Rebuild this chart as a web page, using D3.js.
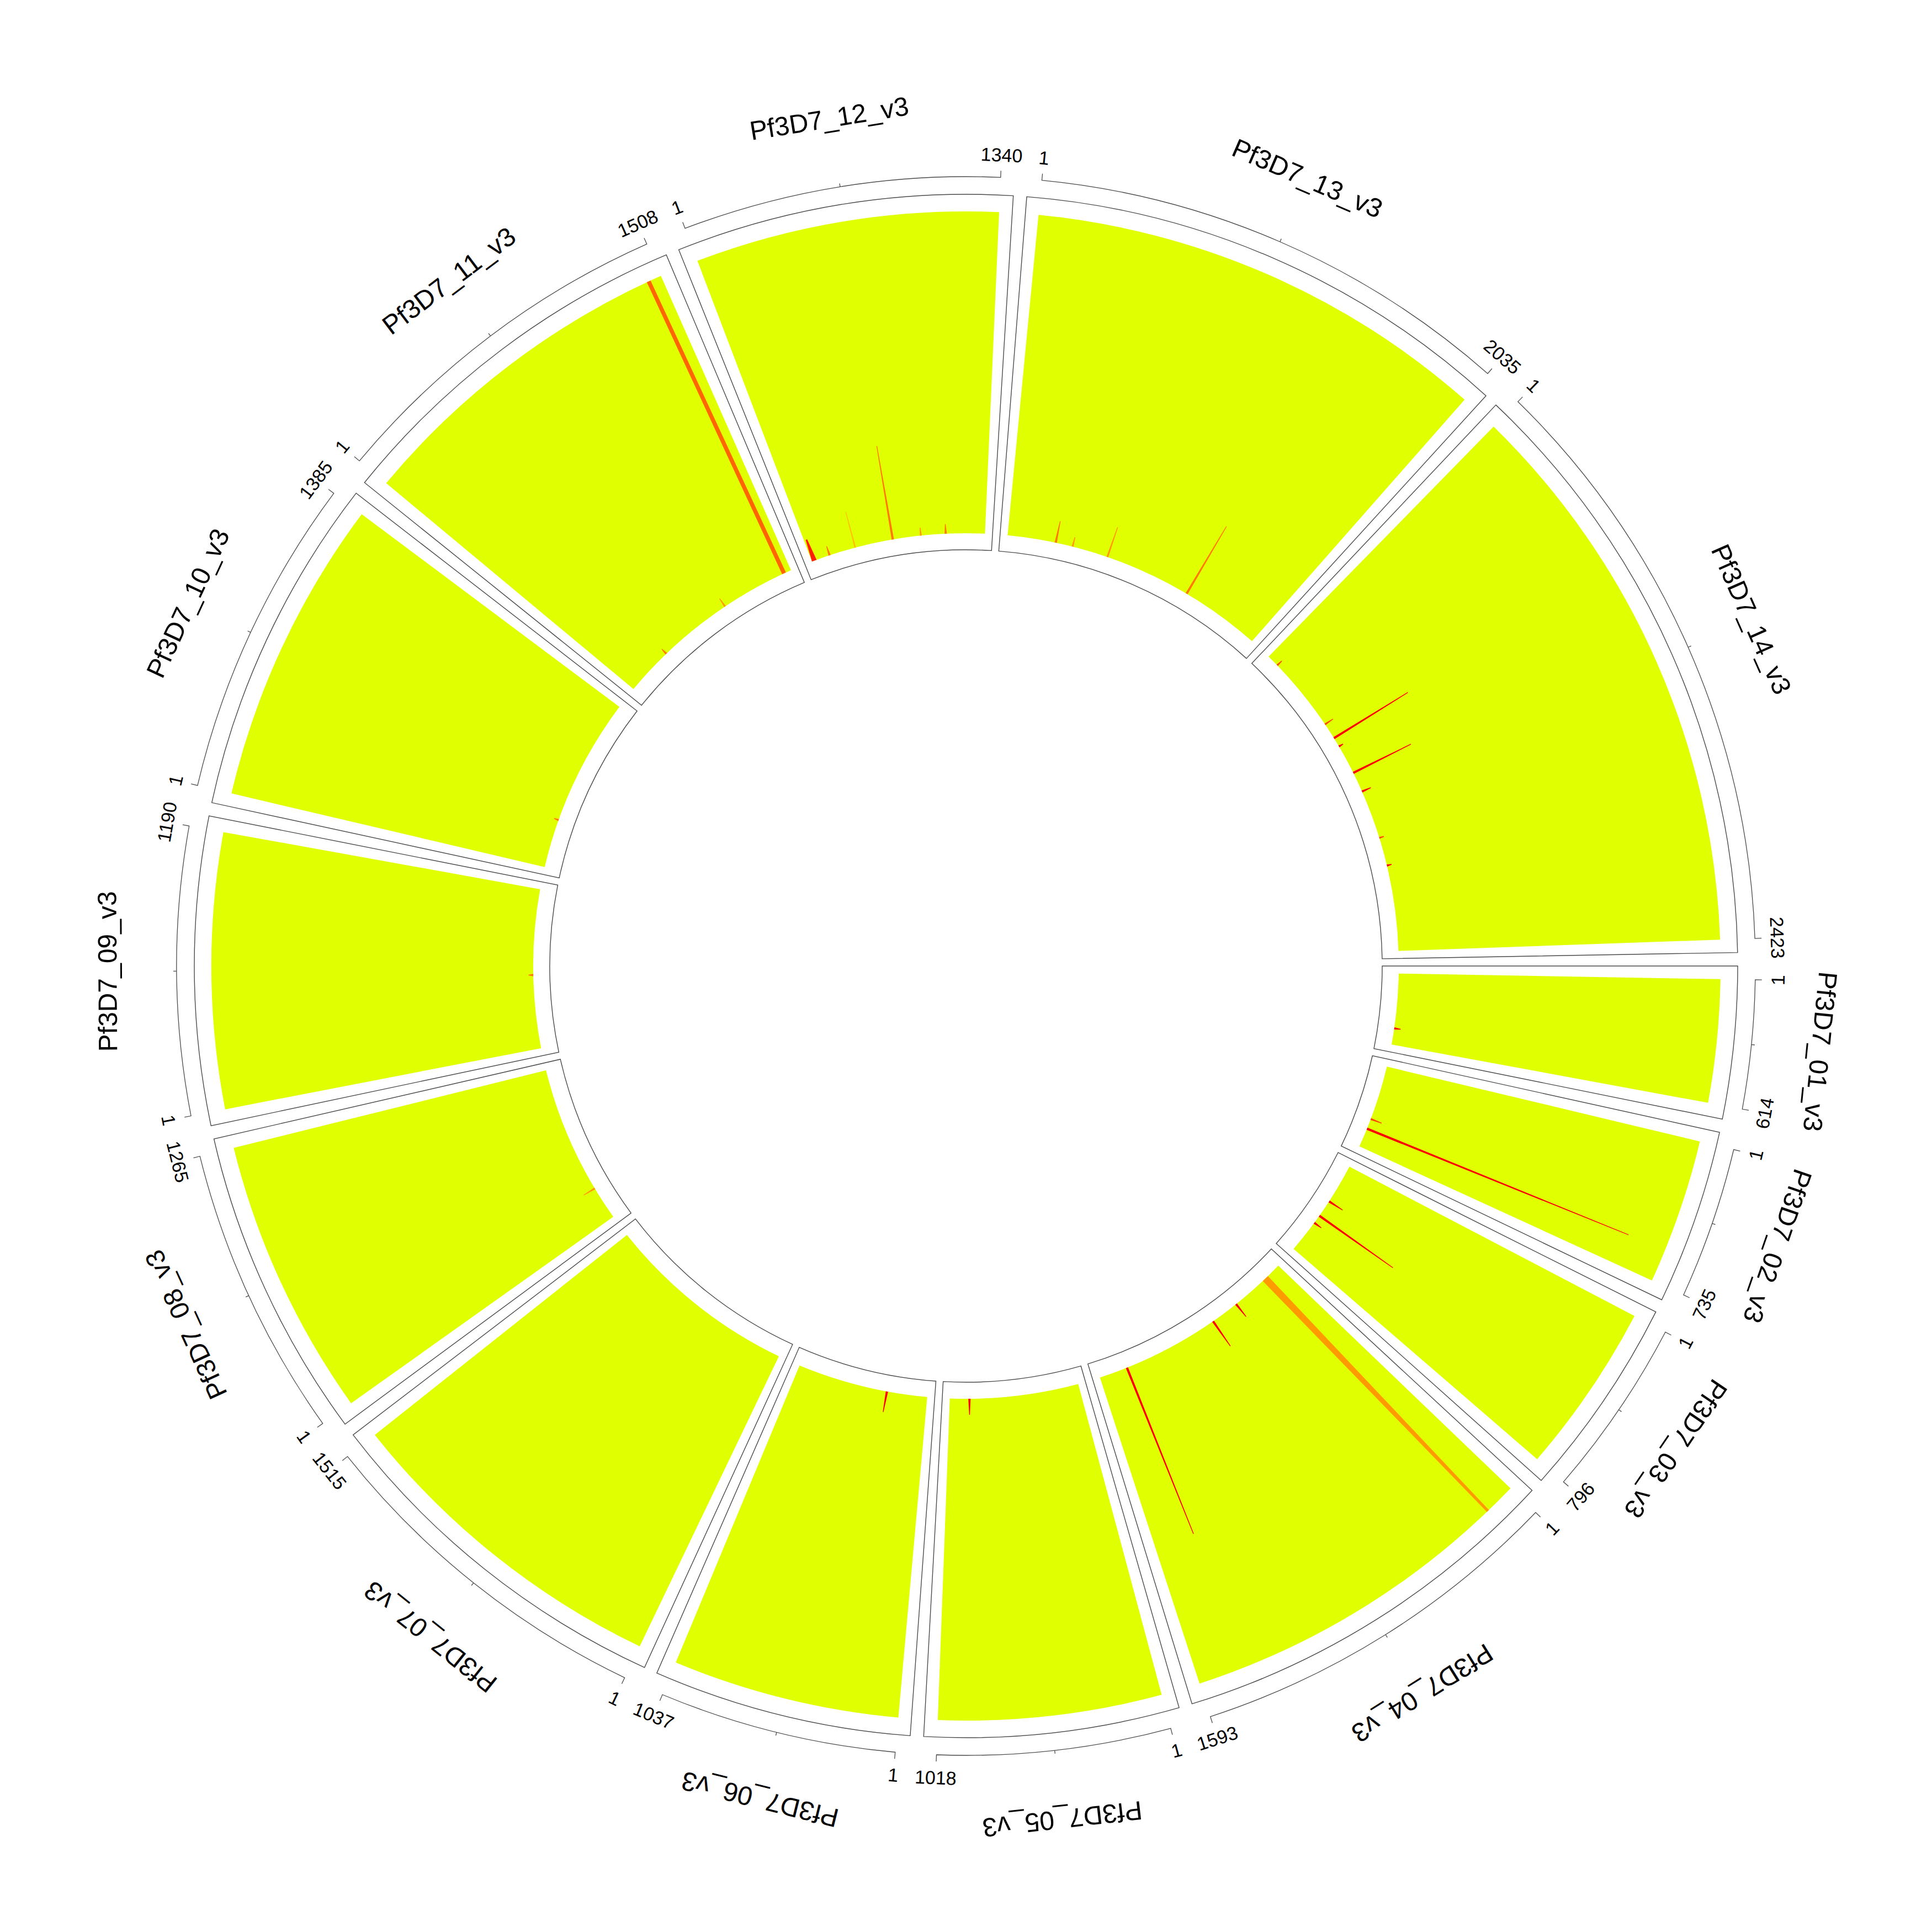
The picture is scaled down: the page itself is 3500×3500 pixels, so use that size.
<!DOCTYPE html>
<html><head><meta charset="utf-8">
<script src="https://cdn.jsdelivr.net/npm/d3@7"></script>
<style>body{margin:0;background:#fff}svg{display:block}</style>
</head><body>
<svg id="chart" width="3500" height="3500"></svg>
<script>
// ---------- data ----------
const chromosomes = ["Pf3D7_01_v3","Pf3D7_02_v3","Pf3D7_03_v3","Pf3D7_04_v3","Pf3D7_05_v3","Pf3D7_06_v3","Pf3D7_07_v3",
  "Pf3D7_08_v3","Pf3D7_09_v3","Pf3D7_10_v3","Pf3D7_11_v3","Pf3D7_12_v3","Pf3D7_13_v3","Pf3D7_14_v3"];
const chromEnds = [614,735,796,1593,1018,1037,1515,1265,1190,1385,1508,1340,2035,2423];
// relative sector widths
const sectorWidths = [9.46,11.2,13.2,28.2,17.2,17.5,26.0,21.5,21.2,23.6,26.4,23.4,35.9,43.7];
// axis tick positions inside each chromosome (besides the ends)
const minorTicks = [[307],[368],[398],[797],[509],[519],[758],[633],[595],[693],[754],[670],[1018],[1212]];
// highlighted windows (all other windows are fully in the base class)
const spikeChrom = [1, 2,2, 3,3,3, 4,4,4,4, 5, 6, 8, 9, 10, 11,11,11, 12,12,12,12,12,12, 13,13,13,13, 14,14,14,14,14,14,14,14];
const spikePos   = [474, 568,478, 461,322,530, 138,1378,644,429, 864, 320, 265, 549, 382, 1450,937,366, 20,143,346,638,853,1042, 367,497,770,1427, 91,650,771,842,1063,1214,1578,1789];
const spikeFrac  = [0.02, 0.877,0.036, 0.28,0.05,0.027, 1.0,0.556,0.094,0.05, 0.05, 0.065, 0.04, 0.015, 0.015, 1.0,0.03,0.02,
  0.07,0.03,0.115,0.295,0.025,0.03, 0.068,0.03,0.098,0.243, 0.02,0.03,0.27,0.015,0.2,0.03,0.015,0.015];
const spikeKind  = ["red", "red","orange", "red","red","red", "amber","red","red","red", "red", "red", "orange", "red", "red",
  "band","orange","red", "thick","red","yellow","red","orange","red", "red","orange","orange","red",
  "orange","orange","red","red","red","red","orange","red"];

// ---------- layout ----------
const W = 3500, cx = 1750, cy = 1750;
const gapDeg = 3.0, startDeg = 91.0;            // d3 angle (clockwise from 12 o'clock)
const rIn = 784, rOut = 1367, boxPad = 30, boxPadDeg = 1.0;
const rAxis = 1430, majorTick = 12, minorTick = 6;
const rNum = 1471, rName = 1556;
const yellow = "#E0FF00", lineCol = "#4a4a4a";

const svg = d3.select("#chart");
svg.append("rect").attr("width", W).attr("height", W).attr("fill", "#fff");
const g = svg.append("g").attr("transform", `translate(${cx},${cy})`);
const defs = svg.append("defs");

const totalW = d3.sum(sectorWidths);
const degPerW = (360 - gapDeg * chromosomes.length) / totalW;
const rad = d => d * Math.PI / 180;

let acc = startDeg;
const sectors = chromosomes.map((name, i) => {
  const a0 = acc, a1 = acc + sectorWidths[i] * degPerW;
  acc = a1 + gapDeg;
  const scale = d3.scaleLinear().domain([1, chromEnds[i]]).range([rad(a0), rad(a1)]);
  return {name, i, a0, a1, scale};
});
const rScale = d3.scaleLinear().domain([0, 1]).range([rIn, rOut]);

const arc = d3.arc();
const polar = (a, r) => [r * Math.sin(a), -r * Math.cos(a)];

// boxes
g.selectAll("path.box").data(sectors).join("path")
  .attr("class", "box")
  .attr("d", s => arc({innerRadius: rIn - boxPad, outerRadius: rOut + boxPad + 1,
      startAngle: rad(s.a0 - boxPadDeg), endAngle: rad(s.a1 + boxPadDeg)}))
  .attr("fill", "none").attr("stroke", lineCol).attr("stroke-width", 1.4);

// base track
g.selectAll("path.base").data(sectors).join("path")
  .attr("class", "base")
  .attr("d", s => arc({innerRadius: rIn, outerRadius: rOut, startAngle: s.scale(1), endAngle: s.scale(chromEnds[s.i])}))
  .attr("fill", yellow);

// spikes
const kinds = {
  red:    {w0: 4.2, w1: 1.3, stops: ["#FF0000", "#FF3000", "#FF7A00"]},
  orange: {w0: 3.6, w1: 1.4, stops: ["#FF4A00", "#FF6A00", "#FF9A00"]},
  yellow: {w0: 3.0, w1: 1.2, stops: ["#FF7A00", "#FFA000", "#FFC000"]},
  thick:  {w0: 9.0, w1: 3.0, stops: ["#FF0000", "#FF0000", "#FF2000"]},
  amber:  {w0: 13,  w1: 5.0, stops: ["#FF9A00", "#FFB300", "#FFBC00"]},
  band:   {w0: 7.5, w1: 7.5, stops: ["#FF5000", "#FF6400", "#FF6600"]}
};
const spikes = spikeChrom.map((c, k) => ({c: c - 1, pos: spikePos[k], frac: spikeFrac[k], kind: spikeKind[k], k}));
const radial = d3.lineRadial().angle(d => d[0]).radius(d => d[1]);
spikes.forEach(sp => {
  const s = sectors[sp.c];
  const a = s.scale(sp.pos);
  const r0 = rScale(0), r1 = rScale(sp.frac);
  const K = kinds[sp.kind];
  const h0 = K.w0 / 2 / r0, h1 = K.w1 / 2 / r1;
  const p0 = polar(a, r0), p1 = polar(a, r1);
  const id = "grad" + sp.k;
  const gr = defs.append("linearGradient").attr("id", id).attr("gradientUnits", "userSpaceOnUse")
    .attr("x1", p0[0] + cx).attr("y1", p0[1] + cy).attr("x2", p1[0] + cx).attr("y2", p1[1] + cy);
  K.stops.forEach((col, j) => gr.append("stop").attr("offset", j / (K.stops.length - 1)).attr("stop-color", col));
  g.append("path")
    .attr("d", radial([[a - h0, r0], [a - h1, r1], [a + h1, r1], [a + h0, r0]]) + "Z")
    .attr("fill", `url(#${id})`);
});

// axis ring with ticks
const axisPath = s => {
  const p = d3.path();
  const a0 = s.scale(1), a1 = s.scale(chromEnds[s.i]);
  const q0 = polar(a0, rAxis + majorTick), q1 = polar(a0, rAxis), q2 = polar(a1, rAxis + majorTick);
  p.moveTo(q0[0], q0[1]);
  p.lineTo(q1[0], q1[1]);
  p.arc(0, 0, rAxis, a0 - Math.PI / 2, a1 - Math.PI / 2, false);
  p.lineTo(q2[0], q2[1]);
  minorTicks[s.i].forEach(v => {
    const a = s.scale(v), m0 = polar(a, rAxis), m1 = polar(a, rAxis + minorTick);
    p.moveTo(m0[0], m0[1]); p.lineTo(m1[0], m1[1]);
  });
  return p.toString();
};
g.selectAll("path.axis").data(sectors).join("path")
  .attr("class", "axis").attr("d", axisPath)
  .attr("fill", "none").attr("stroke", lineCol).attr("stroke-width", 1.3);

// end labels (nice facing)
const numLabels = [];
sectors.forEach(s => {
  numLabels.push({a: s.scale(1), text: "1"});
  numLabels.push({a: s.scale(chromEnds[s.i]), text: String(chromEnds[s.i])});
});
g.selectAll("text.num").data(numLabels).join("text")
  .attr("class", "num")
  .attr("transform", d => {
    const p = polar(d.a, rNum);
    let deg = d.a * 180 / Math.PI;
    deg = ((deg % 360) + 360) % 360;
    if (deg > 90 && deg < 270) deg -= 180;
    return `translate(${p[0]},${p[1]}) rotate(${deg})`;
  })
  .attr("text-anchor", "middle").attr("dy", "0.36em")
  .attr("font-family", "'Liberation Sans', Arial, Helvetica, sans-serif")
  .attr("font-size", 34).attr("fill", "#000")
  .text(d => d.text);

// chromosome names
g.selectAll("text.name").data(sectors).join("text")
  .attr("class", "name")
  .attr("transform", s => {
    const a = (s.scale(1) + s.scale(chromEnds[s.i])) / 2;
    const p = polar(a, rName);
    return `translate(${p[0]},${p[1]}) rotate(${a * 180 / Math.PI})`;
  })
  .attr("text-anchor", "middle").attr("dy", "0.36em")
  .attr("font-family", "'Liberation Sans', Arial, Helvetica, sans-serif")
  .attr("font-size", 48).attr("fill", "#000")
  .text(s => s.name);
</script>
</body></html>
